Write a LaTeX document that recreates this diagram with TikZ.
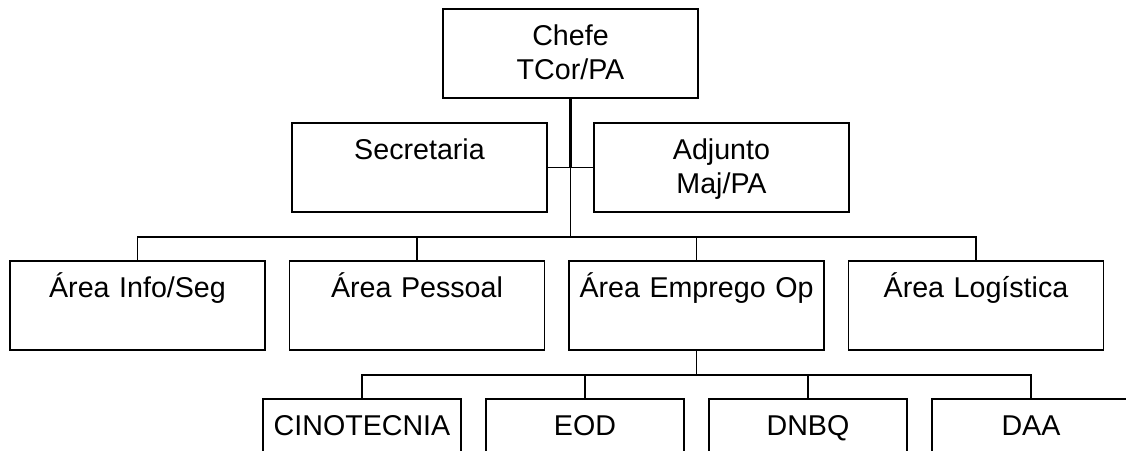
\documentclass[tikz,border=0pt]{standalone}
\usepackage{fontspec}
\setmainfont{Liberation Sans}
\newcommand{\topstrut}{\rule{0pt}{0.56cm}}
\newcommand{\botstrut}{\rule[-0.2cm]{0pt}{0.2cm}}

\begin{document}
\begin{tikzpicture}[x=0.02cm,y=-0.02cm,
    box/.style={draw,line width=0.03cm,rectangle,inner sep=0,minimum height=1.78cm,
        text width=#1,minimum width=#1,align=center,font=\fontsize{16.3pt}{0.7cm}\selectfont},
    box/.default=5.1cm,
    link/.style={line width=0.03cm}]
    \useasboundingbox (0,0) rectangle (1126,450);
    \clip (0,0) rectangle (1126,450);
    \pgfmathsetmacro{\areay}{305.5}
    \pgfmathsetmacro{\secy}{443.5}
    % top
    \node[box] (chefe) at (570.5,53.5) {\topstrut Chefe\\TCor/PA\botstrut};
    \node[box] (secretaria) at (419.5,167.5) {\topstrut Secretaria\\\botstrut};
    \node[box] (adjunto) at (721.5,167.5) {\topstrut Adjunto\\Maj/PA\botstrut};
    % areas
    \node[box] (info) at (137.5,\areay) {\topstrut Área Info/Seg\\\botstrut};
    \node[box] (pessoal) at (417,\areay) {\topstrut Área Pessoal\\\botstrut};
    \node[box] (emprego) at (696.5,\areay) {\topstrut Área Emprego Op\\\botstrut};
    \node[box] (logistica) at (976,\areay) {\topstrut Área Logística\\\botstrut};
    % sections of Emprego Op
    \node[box=3.96cm] (cinotecnia) at (362,\secy) {\topstrut CINOTECNIA\\\botstrut};
    \node[box=3.96cm] (eod) at (585,\secy) {\topstrut EOD\\\botstrut};
    \node[box=3.96cm] (dnbq) at (808,\secy) {\topstrut DNBQ\\\botstrut};
    \node[box=3.96cm] (daa) at (1031,\secy) {\topstrut DAA\\\botstrut};
    % connectors
    \coordinate (hub) at (chefe.south |- secretaria.east);
    \coordinate (bus) at (chefe.south |- 0,237);
    \coordinate (opbus) at (emprego.south |- 0,375);
    \draw[line width=0.06cm] (chefe) -- (hub);
    \draw[link] (secretaria) -- (hub) -- (adjunto);
    \draw[link] (hub) -- (bus);
    \foreach \n in {info,pessoal,emprego,logistica}
        \draw[link] (bus) -| (\n.north);
    \draw[link] (emprego) -- (opbus);
    \foreach \n in {cinotecnia,eod,dnbq,daa}
        \draw[link] (opbus) -| (\n.north);
\end{tikzpicture}
\end{document}
